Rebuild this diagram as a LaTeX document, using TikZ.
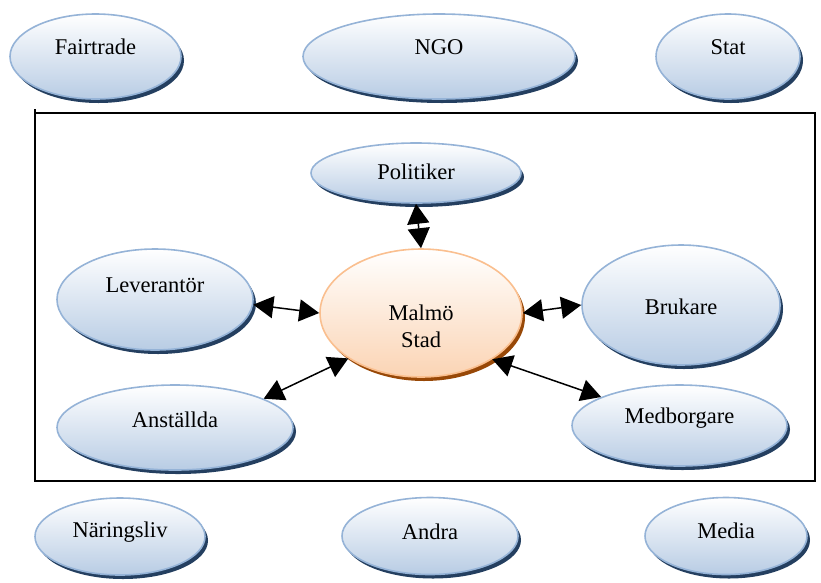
\documentclass[tikz,border=0pt]{standalone}
\usepackage{fontspec}
\setmainfont{Liberation Serif}
\usetikzlibrary{shapes.geometric,shadows,arrows.meta}
\definecolor{bord}{HTML}{95B3D7}
\definecolor{fillb}{HTML}{B8CCE4}
\definecolor{shad}{HTML}{243F60}
\definecolor{obord}{HTML}{FABF8F}
\definecolor{ofill}{HTML}{FBD4B4}
\definecolor{oshad}{HTML}{984807}
\tikzset{
  bub/.style={ellipse, line width=1.6pt, inner sep=0pt, top color=white},
  blueb/.style={bub, draw=bord, bottom color=fillb,
    drop shadow={shadow xshift=3pt, shadow yshift=-4pt, fill=shad, opacity=1}},
  orangeb/.style={bub, draw=obord, bottom color=ofill,
    drop shadow={shadow xshift=3pt, shadow yshift=-4pt, fill=oshad, opacity=1}},
  lbl/.style={font=\fontsize{22.5}{27}\selectfont, align=center, inner sep=0pt},
  tip/.tip={Triangle[length=20pt,width=22pt]},
  link/.style={line width=1.5pt, tip-tip},
  frame/.style={line width=1.8pt, line join=miter}
}
\begin{document}
\begin{tikzpicture}[x=1pt,y=-1pt]
\useasboundingbox (0,0) rectangle (821,582);
% outer ring
\node[blueb, minimum width=171pt, minimum height=85pt, label={[lbl,yshift=9.5pt]center:Fairtrade}] (fair) at (95.5,56.5) {};
\node[blueb, minimum width=272pt, minimum height=85pt, label={[lbl,yshift=9.5pt]center:NGO}] (ngo) at (439,56.5) {};
\node[blueb, minimum width=144pt, minimum height=85pt, label={[lbl,yshift=9.5pt]center:Stat}] (stat) at (728,56.5) {};
\node[blueb, minimum width=170pt, minimum height=77pt, label={[lbl,yshift=4.5pt]center:Näringsliv}] (nar) at (120,536.5) {};
\node[blueb, minimum width=176pt, minimum height=77pt, label={[lbl,yshift=4.5pt]center:Andra}] (andra) at (430,536) {};
\node[blueb, minimum width=162pt, minimum height=77pt, label={[lbl,yshift=5pt]center:Media}] (media) at (726,536) {};
% frame
\draw[frame] (35,109) -- (35,481) -- (815,481) -- (815,113) -- (35,113);
% inner
\node[blueb, minimum width=210pt, minimum height=60pt, label={[lbl,yshift=1pt]center:Politiker}] (pol) at (416,173) {};
\node[blueb, minimum width=196pt, minimum height=101pt, label={[lbl,yshift=14.5pt]center:Leverantör}] (lev) at (155,299.5) {};
\node[orangeb, minimum width=202pt, minimum height=128pt, label={[lbl,yshift=-13.5pt]center:Malmö\\Stad}] (mal) at (421,313) {};
\node[blueb, minimum width=198pt, minimum height=120pt, label={[lbl,yshift=-2pt]center:Brukare}] (bru) at (681,305) {};
\node[blueb, minimum width=236pt, minimum height=85pt, label={[lbl,yshift=7.5pt]center:Anställda}] (ans) at (175,427.5) {};
\node[blueb, minimum width=215pt, minimum height=81pt, label={[lbl,yshift=7.5pt]center:Medborgare}] (med) at (679.5,425.5) {};
% links
\draw[link] (pol.south) -- (mal.north);
\draw[link] (lev.-3) -- (mal.west);
\draw[link] (bru.west) -- (mal.east);
\draw[link] (ans.18.5) -- (mal.212);
\draw[link] (med.160.5) -- (mal.-33.5);
\end{tikzpicture}
\end{document}
